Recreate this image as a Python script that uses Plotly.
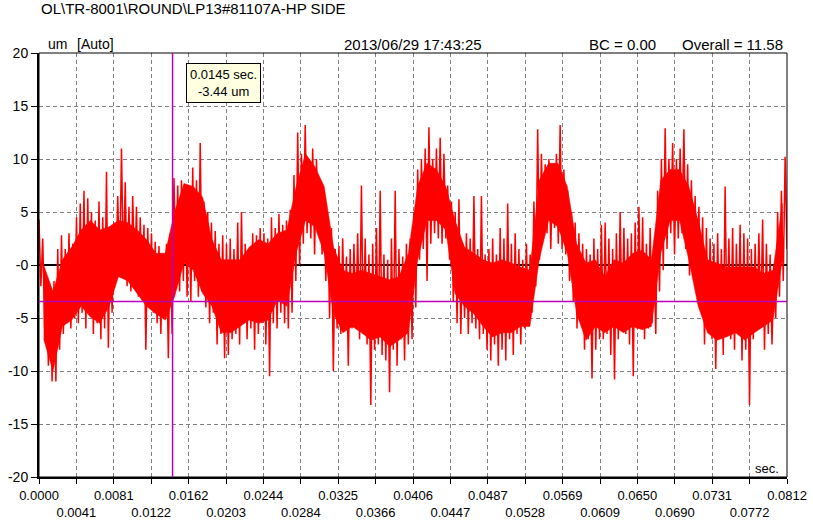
import plotly.graph_objects as go

# ---------------- data ----------------
title_text = "OL\\TR-8001\\ROUND\\LP13#81107A-HP SIDE"
unit_text = "um"
mode_text = "[Auto]"
date_text = "2013/06/29 17:43:25"
bc_text = "BC = 0.00"
overall_text = "Overall = 11.58"

t_max = 0.0812
cursor_t = 0.0145
cursor_val = -3.44

x_tick_labels = ["0.0000", "0.0041", "0.0081", "0.0122", "0.0162", "0.0203", "0.0244",
                 "0.0284", "0.0325", "0.0366", "0.0406", "0.0447", "0.0487", "0.0528",
                 "0.0569", "0.0609", "0.0650", "0.0690", "0.0731", "0.0772", "0.0812"]
y_tick_vals = [20, 15, 10, 5, 0, -5, -10, -15, -20]
y_tick_labels = ["20", "15", "10", "5", "-0", "-5", "-10", "-15", "-20"]

# upper extremes of the waveform, 10 columns per grid interval (200 columns)
signal_hi = [
    4.3, 2.5, -1.5, -2.0, -1.5, 1.5, 2.8, 1.5, 3.0, 2.0,
    4.5, 5.8, 7.0, 6.3, 5.0, 4.2, 6.0, 4.5, 8.8, 3.5,
    4.0, 6.5, 11.0, 7.8, 5.5, 6.5, 5.5, 4.5, 3.8, 3.5,
    3.0, 2.2, 1.8, 1.0, 2.0, 3.0, 8.2, 7.5, 8.0, 7.2,
    6.5, 9.2, 8.0, 11.5, 6.0, 5.0, 4.0, 3.2, 2.0, 2.8,
    2.0, 2.5, 1.5, 4.0, 5.0, 2.0, 1.5, 3.0, 2.8, 3.5,
    3.0, 2.5, 4.5, 3.5, 4.8, 3.8, 4.2, 5.2, 8.5, 12.5,
    10.5, 13.2, 10.0, 11.0, 10.0, 8.0, 6.5, 4.5, 3.5, 1.5,
    1.8, 2.5, 0.8, 1.5, 2.0, 3.0, 7.5, 2.5, 1.0, 2.0,
    3.5, 7.0, 1.0, 0.5, 2.5, 7.0, 1.5, 0.8, 2.0, 2.5,
    5.0, 9.0, 10.0, 11.0, 13.0, 10.0, 11.0, 12.0, 10.5, 7.5,
    6.0, 5.0, 6.2, 2.0, 3.0, 2.5, 6.5, 1.5, 6.5, 1.0,
    1.5, 2.5, 1.0, 3.5, 2.5, 5.8, 2.0, 3.0, 1.5, 0.5,
    2.0, 1.0, 6.0, 12.8, 10.5, 9.5, 10.0, 9.0, 10.5, 13.2,
    9.0, 7.0, 5.0, 4.0, 3.0, 2.0, 1.5, 1.0, 2.5, 1.5,
    3.8, 4.0, 2.5, 1.5, 3.0, 5.0, 3.5, 2.5, 3.0, 4.0,
    5.5, 4.5, 2.0, 3.5, 1.0, 7.0, 10.0, 12.9, 10.0, 11.5,
    10.0, 11.0, 12.8, 9.5, 8.0, 6.5, 5.5, 4.5, 3.5, 2.5,
    2.0, 3.0, 1.5, 7.4, 2.5, 3.5, 2.0, 3.8, 3.0, 2.5,
    1.5, 2.0, 3.0, 4.3, 2.0, 1.0, 0.0, 5.0, 7.0, 10.2,
]

# lower extremes of the waveform, same columns
signal_lo = [
    -2.0, -6.0, -9.5, -11.0, -11.0, -8.0, -6.5, -5.5, -6.0, -5.0,
    -5.5, -4.5, -6.0, -4.0, -6.5, -5.5, -7.0, -6.0, -7.8, -4.5,
    -0.5, -1.0, -0.5, -2.0, -2.5, -1.5, -3.0, -2.5, -8.0, -4.0,
    -4.5, -5.5, -6.5, -4.5, -8.8, -6.5, -0.5, -2.5, -1.5, -3.0,
    -3.5, -1.5, -3.0, -2.5, -4.0, -5.5, -4.5, -7.5, -6.5, -8.8,
    -8.5, -7.0, -6.5, -7.5, -5.5, -7.0, -6.0, -8.0, -6.5, -5.5,
    -7.5, -10.5, -5.5, -6.0, -4.5, -5.5, -6.0, -4.5, -1.5, 0.0,
    2.0, 3.0, 2.5, 1.0, 3.5, 1.0, -1.5, -5.0, -10.0, -6.0,
    -6.5, -5.5, -9.5, -6.0, -5.0, -7.0, -6.5, -7.5, -13.2, -8.0,
    -7.5, -8.5, -9.0, -12.0, -8.0, -9.5, -7.0, -9.0, -7.5, -7.0,
    -4.0, 0.5, 1.5, -1.5, 2.0, 3.0, 2.5, 2.0, 2.5, 0.5,
    -3.5, -5.5, -6.5, -5.0, -6.5, -5.5, -6.0, -7.0, -6.5, -8.0,
    -9.0, -7.5, -9.5, -8.0, -9.0, -7.0, -8.5, -6.5, -7.5, -6.0,
    -5.5, -4.5, -2.0, 0.5, 2.5, 3.0, 1.5, 3.5, 2.0, 1.5,
    1.0, -1.5, -3.5, -6.0, -5.5, -8.0, -7.0, -10.7, -8.0, -7.0,
    -7.0, -6.5, -8.5, -10.8, -7.0, -5.5, -6.5, -7.5, -10.5, -6.0,
    -5.0, -7.0, -6.0, -5.5, -6.5, -2.5, -0.5, 1.5, 3.0, 1.0,
    2.5, 3.0, 1.5, -1.0, 0.5, -2.0, -4.0, -7.5, -6.0, -7.0,
    -9.8, -7.0, -8.5, -6.5, -7.0, -8.0, -6.0, -9.0, -8.0, -13.2,
    -7.0, -6.0, -5.5, -8.0, -6.5, -7.5, -5.0, -3.0, -1.5, 1.5,
]

# dense (solid) part of the trace, 4 points per grid interval (80 points)
core_hi = [
    0.0, -2.5, 0.5, 1.7,   3.3, 4.2, 3.3, 3.6,   4.2, 4.0, 3.3, 2.4,
    1.1, 1.1, 5.0, 7.7,   7.4, 6.4, 2.4, 0.5,   0.5, 0.5, 1.7, 2.4,
    2.0, 3.0, 3.3, 7.4,   10.5, 9.3, 7.4, 1.7,  -0.5, -0.8, -0.5, -0.8,
    -1.1, -1.4, -1.1, 1.1,
    7.5, 9.6, 9.0, 7.4,   4.2, 1.7, 1.1, 0.5,   0.2, 0.5, 0.2, -0.2,
    -0.5, 8.0, 9.6, 9.6,  7.4, 2.0, 0.2, 0.5,   -1.1, 0.5, 0.2, 1.1,
    1.4, 0.5, 8.0, 9.0,   9.0, 7.4, 4.2, 0.5,   0.2, -0.2, -0.2, -0.2,
    -0.2, -0.8, -0.5, 5.8,
]
core_lo = [
    -7.0, -10.0, -5.8, -5.2,   -3.9, -4.9, -5.5, -3.9,   -1.1, -1.5, -2.7, -3.9,
    -4.6, -5.2, -3.0, 0.2,     -0.5, -2.7, -3.9, -6.4,   -6.4, -5.8, -5.2, -5.5,
    -5.2, -3.3, -3.9, 1.1,     4.2, 3.6, 1.1, -4.6,      -6.4, -5.8, -6.4, -7.1,
    -6.8, -7.7, -7.1, -6.4,
    0.5, 4.2, 4.2, 3.3,        -2.7, -3.9, -4.6, -5.8,   -6.8, -6.4, -6.4, -5.8,
    -5.8, 0.5, 4.2, 3.6,       1.1, -4.6, -7.1, -5.8,    -6.4, -5.8, -6.4, -5.8,
    -6.1, -5.8, 1.1, 4.2,      4.2, 0.5, -3.9, -6.4,     -7.1, -6.8, -6.4, -7.1,
    -6.4, -5.8, -5.2, 0.5,
]

# ---------------- build traces ----------------
n_cols = len(signal_hi)
dt = t_max / (2 * n_cols - 1)
t_vals, y_vals = [], []
for i in range(n_cols):
    t_vals.append(2 * i * dt)
    y_vals.append(signal_hi[i])
    t_vals.append((2 * i + 1) * dt)
    y_vals.append(signal_lo[i])

n_core = len(core_hi)
t_core = [t_max * (j + 0.5) / n_core for j in range(n_core)]

n_ticks = len(x_tick_labels)
x_tick_vals = [t_max * i / (n_ticks - 1) for i in range(n_ticks)]
x_tick_text = [lab if i % 2 == 0 else "&nbsp;<br>" + lab for i, lab in enumerate(x_tick_labels)]

FONT = "Liberation Sans, Arial, sans-serif"
CURSOR = "#BB00BB"
RED = "#FF0000"

fig = go.Figure()
# solid body of the trace
fig.add_trace(go.Scatter(x=t_core + t_core[::-1], y=core_hi + core_lo[::-1],
                         mode="lines", fill="toself", fillcolor=RED,
                         line=dict(color=RED, width=0.5),
                         showlegend=False, hoverinfo="skip"))
# the sampled waveform extremes
fig.add_trace(go.Scatter(x=t_vals, y=y_vals, mode="lines",
                         line=dict(color=RED, width=1.5),
                         showlegend=False, hoverinfo="skip"))

fig.update_layout(
    width=813, height=525,
    margin=dict(l=39, r=26, t=53, b=48),
    paper_bgcolor="white", plot_bgcolor="white",
    font=dict(family=FONT, color="black"),
    showlegend=False,
)
fig.update_xaxes(
    range=[0, t_max], tickvals=x_tick_vals, ticktext=x_tick_text, tickangle=0,
    tickfont=dict(size=13, family=FONT, color="black"),
    showgrid=True, gridcolor="#808080", gridwidth=1, griddash="4px,3px",
    ticks="outside", ticklen=5, tickcolor="black", tickwidth=1,
    showline=True, linecolor="black", linewidth=2, zeroline=False,
    automargin=False,
)
fig.update_yaxes(
    range=[-20, 20], tickvals=y_tick_vals, ticktext=y_tick_labels,
    tickfont=dict(size=14, family=FONT, color="black"),
    showgrid=True, gridcolor="#808080", gridwidth=1, griddash="4px,3px",
    ticks="outside", ticklen=6, tickcolor="black", tickwidth=1,
    showline=True, linecolor="black", linewidth=2,
    zeroline=True, zerolinecolor="black", zerolinewidth=2,
    automargin=False,
)

# plot frame and cursor lines
fig.add_shape(type="rect", xref="paper", yref="paper", x0=0, x1=1, y0=0, y1=1,
              line=dict(color="black", width=1), layer="above")
fig.add_shape(type="line", xref="x", yref="paper", x0=cursor_t, x1=cursor_t, y0=0, y1=1,
              line=dict(color=CURSOR, width=1.5), layer="above")
fig.add_shape(type="line", xref="paper", yref="y", x0=0, x1=1, y0=cursor_val, y1=cursor_val,
              line=dict(color=CURSOR, width=1.5), layer="above")

# texts
fig.add_annotation(text=title_text, xref="paper", yref="paper", x=0.0, y=1.106,
                   xanchor="left", yanchor="middle", showarrow=False,
                   font=dict(size=15, family=FONT, color="black"))
fig.add_annotation(text=unit_text, xref="paper", yref="paper", x=0.010, y=1.021,
                   xanchor="left", yanchor="middle", showarrow=False,
                   font=dict(size=14, family=FONT, color="black"))
fig.add_annotation(text=mode_text, xref="paper", yref="paper", x=0.048, y=1.021,
                   xanchor="left", yanchor="middle", showarrow=False,
                   font=dict(size=14, family=FONT, color="black"))
fig.add_annotation(text=date_text, xref="paper", yref="paper", x=0.50, y=1.021,
                   xanchor="center", yanchor="middle", showarrow=False,
                   font=dict(size=15, family=FONT, color="black"))
fig.add_annotation(text=bc_text, xref="paper", yref="paper", x=0.733, y=1.021,
                   xanchor="left", yanchor="middle", showarrow=False,
                   font=dict(size=15, family=FONT, color="black"))
fig.add_annotation(text=overall_text, xref="paper", yref="paper", x=0.997, y=1.021,
                   xanchor="right", yanchor="middle", showarrow=False,
                   font=dict(size=15, family=FONT, color="black"))
fig.add_annotation(text="sec.", xref="paper", yref="paper", x=0.992, y=0.021,
                   xanchor="right", yanchor="middle", showarrow=False,
                   font=dict(size=13, family=FONT, color="black"))
fig.add_annotation(text=f"{cursor_t:.4f} sec.<br>{cursor_val:.2f} um",
                   xref="paper", yref="paper", x=0.1965, y=0.977,
                   xanchor="left", yanchor="top", showarrow=False, align="center",
                   bgcolor="#FFFFE1", bordercolor="black", borderwidth=1, borderpad=3,
                   font=dict(size=13, family=FONT, color="black"))

fig.write_html("out.html")
